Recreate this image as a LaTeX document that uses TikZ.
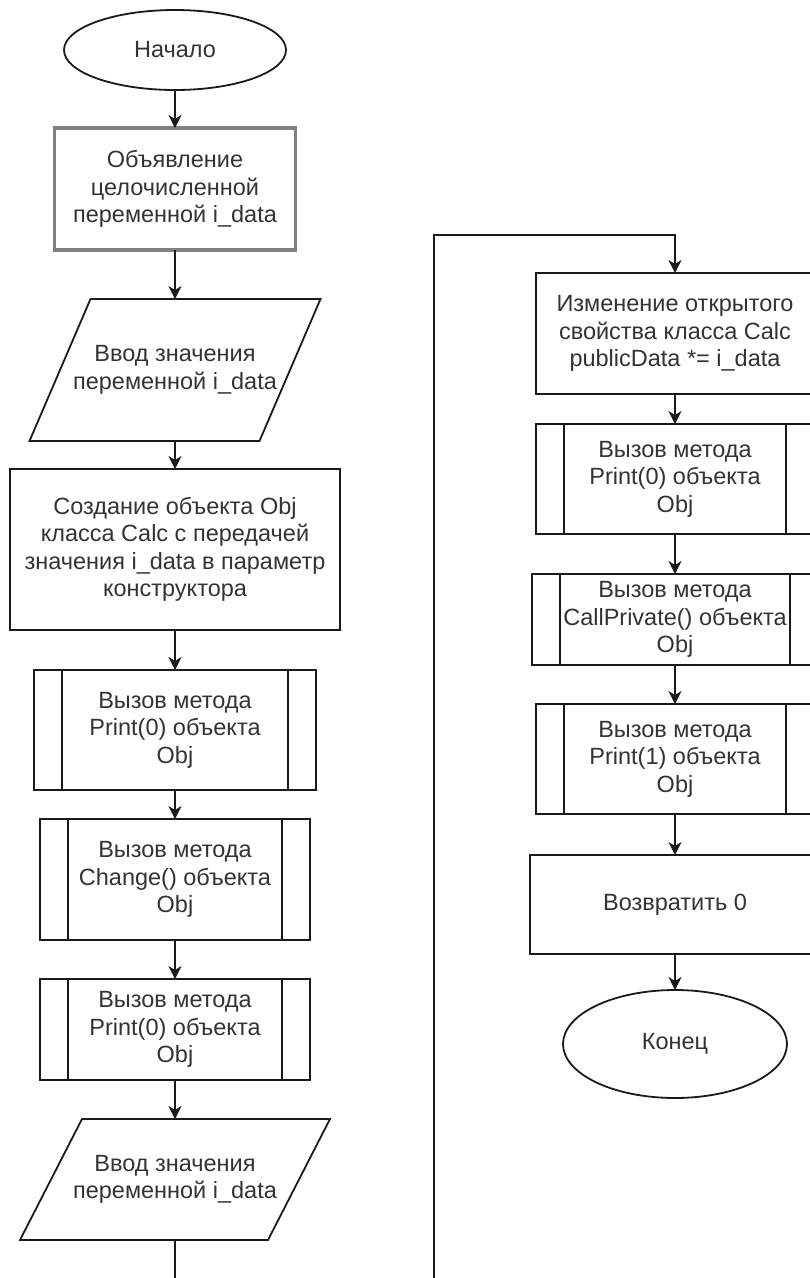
\documentclass[tikz,border=0pt]{standalone}
\usepackage{fontspec}
\setmainfont{Liberation Sans}
\usepackage{tikz}
\usetikzlibrary{arrows.meta,positioning,shapes.geometric}
\definecolor{colLine}{HTML}{1A1A1A}
\definecolor{colText}{HTML}{333333}
\newcommand{\ioframe}[2]{\draw[frame] ([xshift=#2]#1.north west) -- (#1.north east)
  -- ([xshift=-#2]#1.south east) -- (#1.south west) -- cycle;}

\begin{document}
\begin{tikzpicture}[x=1pt, y=1pt,
  frame/.style={draw=colLine, line width=1.8pt, line join=miter},
  base/.style={frame, align=center, text=colText,
               font=\fontsize{23.5}{27.5}\selectfont, inner sep=0pt, outer sep=0pt},
  term/.style={base, ellipse, minimum width=222pt, minimum height=80pt},
  box/.style={base, rectangle, minimum height=121pt},
  iobox/.style={base, rectangle, draw=none, minimum height=142pt, minimum width=291pt},
  subproc/.style={base, rectangle, minimum width=270pt, minimum height=121pt,
                  path picture={\draw[frame]
                    ([xshift=28pt]path picture bounding box.north west) -- ([xshift=28pt]path picture bounding box.south west)
                    ([xshift=-28pt]path picture bounding box.north east) -- ([xshift=-28pt]path picture bounding box.south east);}},
  arr/.style={-{Stealth[length=13pt, width=13pt, inset=4pt]}, line width=1.8pt, draw=colLine}
]
  \useasboundingbox (0,0) rectangle (810,-1278);

  \node[term] (start) at (175,-50) {Начало};
  \node[box, below=38pt of start, minimum width=241pt, minimum height=122pt,
        draw=black!50, line width=3.5pt] (decl)
    {Объявление\\целочисленной\\переменной i\_data};
  \node[iobox, below=49pt of decl] (in1) {Ввод значения\\переменной i\_data};
  \node[box, below=28pt of in1, minimum width=330pt, minimum height=161pt] (create)
    {Создание объекта Obj\\класса Calc с передачей\\значения i\_data в параметр\\конструктора};
  \node[subproc, below=40pt of create, minimum width=282pt, minimum height=120pt] (call1)
    {Вызов метода\\Print(0) объекта\\Obj};
  \node[subproc, below=29pt of call1] (call2) {Вызов метода\\Change() объекта\\Obj};
  \node[subproc, below=39pt of call2, minimum height=101pt] (call3)
    {Вызов метода\\Print(0) объекта\\Obj};
  \node[iobox, below=39pt of call3, minimum height=121pt, minimum width=310pt] (in2)
    {Ввод значения\\переменной i\_data};
  \ioframe{in1}{61pt}
  \ioframe{in2}{62pt}

  \node[box, minimum width=278pt] (chg) at (675,-333.5)
    {Изменение открытого\\свойства класса Calc\\publicData *= i\_data};
  \node[subproc, below=30pt of chg, minimum width=278pt, minimum height=110pt] (call4)
    {Вызов метода\\Print(0) объекта\\Obj};
  \node[subproc, below=40pt of call4, minimum width=286pt, minimum height=91pt] (call5)
    {Вызов метода\\CallPrivate() объекта\\Obj};
  \node[subproc, below=39pt of call5, minimum width=278pt, minimum height=110pt] (call6)
    {Вызов метода\\Print(1) объекта\\Obj};
  \node[box, below=41pt of call6, minimum width=290pt, minimum height=99pt] (ret) {Возвратить 0};
  \node[term, below=36pt of ret, minimum width=224pt, minimum height=108pt] (stop) {Конец};

  \coordinate (loopA) at (175,-1310);
  \coordinate (loopB) at (434,-1310);
  \coordinate (loopC) at (434,-235);

  \draw[arr] (start)  -- (decl);
  \draw[arr] (decl)   -- (in1);
  \draw[arr] (in1)    -- (create);
  \draw[arr] (create) -- (call1);
  \draw[arr] (call1)  -- (call2);
  \draw[arr] (call2)  -- (call3);
  \draw[arr] (call3)  -- (in2);
  \draw[arr] (in2) -- (loopA) -- (loopB) -- (loopC) -| (chg);
  \draw[arr] (chg)    -- (call4);
  \draw[arr] (call4)  -- (call5);
  \draw[arr] (call5)  -- (call6);
  \draw[arr] (call6)  -- (ret);
  \draw[arr] (ret)    -- (stop);
\end{tikzpicture}
\end{document}
